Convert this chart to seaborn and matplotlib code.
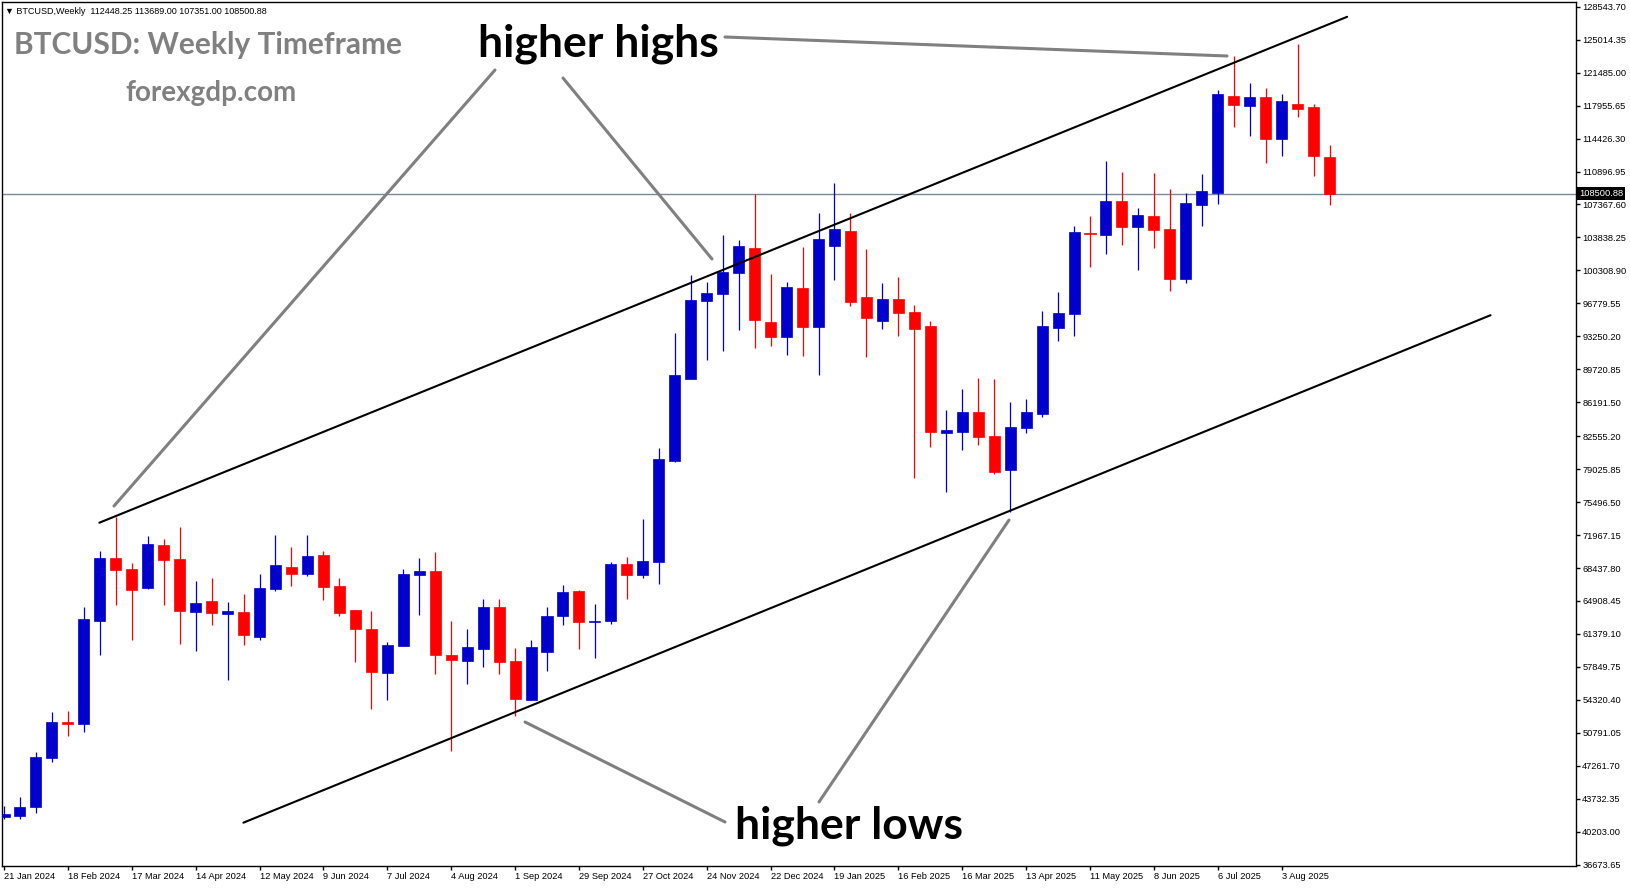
import numpy as np
import pandas as pd
import matplotlib
matplotlib.use("Agg")
import matplotlib.pyplot as plt
import seaborn as sns
from matplotlib.lines import Line2D

W, H = 1631, 888

# weekly candles, first week starts 21 Jan 2024
first_week = "2024-01-21"
opens = [41740, 41920, 42880, 48130, 51950, 51770, 62800, 69510, 68330, 66330,
         70900, 69400, 63760, 64910, 63550, 63730, 61090, 66230, 68550, 67830,
         69830, 66510, 63940, 61910, 57230, 60120, 67730, 68120, 59130, 58480,
         59770, 64300, 58480, 54310, 59450, 63300, 66010, 62660, 62800, 68870,
         67730, 69110, 79890, 88720, 97060, 97820, 100060, 102700, 94780, 93180,
         98420, 94250, 102920, 104530, 97460, 94890, 97240, 95850, 94350, 82930,
         83040, 85140, 82610, 78970, 83470, 84970, 94170, 95670, 104310, 104130,
         107740, 104990, 106130, 104740, 99420, 107350, 108600, 118980, 117950, 118880,
         114410, 118130, 117810, 112448.25]
highs = [42950, 43880, 48740, 53020, 53130, 64260, 70260, 73870, 68980, 71870,
         71550, 72830, 67050, 67370, 64800, 65660, 67800, 71970, 70690, 71970,
         70300, 67370, 63940, 63840, 60520, 68330, 69510, 70150, 62760, 61910,
         65120, 65160, 59910, 60730, 64260, 66620, 66080, 64590, 69080, 69620,
         73690, 81340, 93620, 99810, 99050, 104100, 103560, 108530, 99920, 99060,
         102810, 106450, 109670, 106450, 102600, 98960, 99600, 96600, 94890, 85360,
         87610, 88780, 88680, 86220, 86540, 95960, 98000, 105060, 106130, 112020,
         110840, 106990, 110740, 109020, 108600, 110630, 119630, 123260, 120370, 119840,
         119200, 124550, 118130, 113689.00]
lows = [41590, 41600, 42240, 47700, 50490, 50910, 59160, 64510, 60770, 66230,
        64510, 60340, 59590, 62370, 56480, 60230, 60770, 66010, 66550, 67620,
        65050, 63340, 58410, 53380, 54340, 60120, 63440, 57130, 48800, 56020,
        57870, 57130, 52630, 54310, 57410, 62370, 59770, 58840, 62480, 65160,
        67410, 66770, 79820, 88720, 90750, 91710, 93930, 92000, 92210, 91250,
        91140, 89100, 99280, 96530, 91030, 94030, 93280, 78080, 81430, 76610,
        81110, 81650, 78540, 74470, 82930, 84640, 92790, 93320, 100710, 102100,
        103060, 100390, 102740, 98140, 98990, 105100, 107450, 115700, 114730, 111840,
        112590, 116770, 110450, 107351.00]
closes = [42100, 42810, 48200, 51950, 51770, 62980, 69510, 68260, 66120, 71010,
          69330, 63870, 64690, 63660, 63840, 61300, 66300, 68760, 67830, 69730,
          66440, 63660, 61940, 57340, 60200, 67800, 68120, 59160, 58630, 60020,
          64300, 58380, 54410, 60020, 63340, 65870, 62690, 62760, 68870, 67730,
          69190, 80120, 89100, 97140, 97900, 100120, 102920, 95000, 93180, 98530,
          94250, 103670, 104740, 96920, 95210, 97240, 95750, 94030, 83040, 83220,
          85140, 82500, 78750, 83570, 85140, 94350, 95750, 104420, 104170, 107740,
          104990, 106240, 104670, 99420, 107520, 108810, 119200, 118050, 118880, 114410,
          118450, 117590, 112590, 108500.88]

price_ticks = [128543.70, 125014.35, 121485.00, 117955.65, 114426.30, 110896.95,
               107367.60, 103838.25, 100308.90, 96779.55, 93250.20, 89720.85,
               86191.50, 82555.20, 79025.85, 75496.50, 71967.15, 68437.80,
               64908.45, 61379.10, 57849.75, 54320.40, 50791.05, 47261.70,
               43732.35, 40203.00, 36673.65]
last_price = 108500.88

# channel trend lines (bar index, price)
upper_x = [5.97, 84.1]
upper_y = [73290, 127460]
lower_x = [14.99, 93.08]
lower_y = [41170, 95510]

weeks = pd.date_range(first_week, periods=len(opens), freq="7D")
df = pd.DataFrame({"open": opens, "high": highs, "low": lows, "close": closes})
df["idx"] = np.arange(len(df))
bull = df["close"] >= df["open"]
colors = np.where(bull, "#0000CD", "#FF0000")

sns.set_theme(style="white")
plt.rcParams['font.family'] = ['Liberation Sans', 'DejaVu Sans']

fig = plt.figure(figsize=(W / 100, H / 100), dpi=100)
ax = fig.add_axes([2 / W, 1 - 866 / H, 1574 / W, 864 / H])

# candles
ax.vlines(df["idx"], df["low"], df["high"], colors=colors, lw=0.9, zorder=2)
body_low = np.minimum(df["open"], df["close"])
body_h = (df["close"] - df["open"]).abs()
ax.bar(df["idx"], body_h, bottom=body_low, width=0.69, color=colors,
       edgecolor=colors, linewidth=0.5, zorder=3)

ax.axhline(last_price, color="#778899", lw=1, zorder=1)
sns.lineplot(x=upper_x, y=upper_y, color="black", lw=1.5, ax=ax, zorder=4)
sns.lineplot(x=lower_x, y=lower_y, color="black", lw=1.5, ax=ax, zorder=4)

ax.set_xlim(-0.125, 98.43)
ax.set_ylim(36532, 129047)

for s in ax.spines.values():
    s.set_color("black")
    s.set_linewidth(1)

ax.yaxis.tick_right()
ax.set_yticks(price_ticks)
ax.set_yticklabels([f"{v:.2f}" for v in price_ticks])
ax.set_xticks(df["idx"][::4])
ax.set_xticklabels([f"{d.day} {d.strftime('%b %Y')}" for d in weeks[::4]], ha="left")
ax.tick_params(axis="both", direction="out", length=3, width=1, color="black",
               labelsize=6.7, labelcolor="black", pad=1.5)
ax.tick_params(axis="x", bottom=True)
ax.tick_params(axis="y", right=True)
ax.set_xlabel("")
ax.set_ylabel("")
ax.grid(False)

# price tag
fig.text(1579 / W, 1 - 193.5 / H, f"{last_price:.2f}", color="white", fontsize=6.7,
         va="center", ha="left",
         bbox=dict(facecolor="black", edgecolor="none", pad=1.3))

# header
fig.text(5 / W, 1 - 11 / H, "\u25bc BTCUSD,Weekly  112448.25 113689.00 107351.00 108500.88",
         fontsize=6.5, va="center", ha="left", color="black")

# titles and labels
def ftext(x, y, s, size, color):
    fig.text(x / W, 1 - y / H, s, fontsize=size, fontweight="bold",
             family=["Lato", "DejaVu Sans"], color=color, ha="left", va="baseline")

ftext(14, 54, "BTCUSD: Weekly Timeframe", 21.5, "#808080")
ftext(125, 101, "forexgdp.com", 20, "#808080")
ftext(478, 56, "higher highs", 32, "black")
ftext(735, 838, "higher lows", 32, "black")

# pointer lines
pointers = [((495, 70), (114, 506)),
            ((563, 78), (712, 259)),
            ((725, 37), (1227, 56)),
            ((725, 822), (525, 722)),
            ((819, 802), (1009, 520))]
for (x1, y1), (x2, y2) in pointers:
    fig.add_artist(Line2D([x1 / W, x2 / W], [1 - y1 / H, 1 - y2 / H],
                          color="#808080", lw=2.2, transform=fig.transFigure))

fig.savefig("out.png", dpi=100)
